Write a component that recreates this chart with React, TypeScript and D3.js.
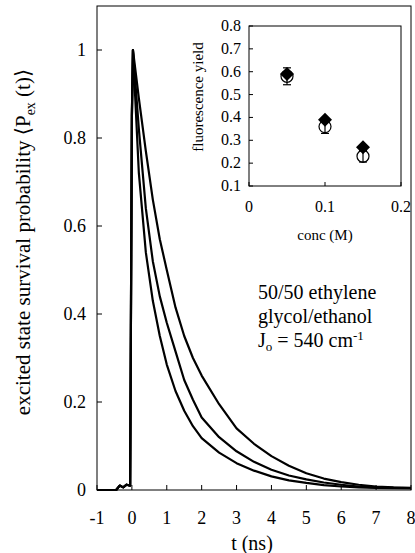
import React from "react";
import * as d3 from "d3";

const times = [-1, -0.45, -0.35, -0.25, -0.15, -0.05, 0, 0.03, 0.2, 0.4, 0.6, 0.8, 1.0, 1.25, 1.5, 1.75, 2.0, 2.5, 3.0, 3.5, 4.0, 4.5, 5.0, 5.5, 6.0, 6.5, 7.0, 7.5, 8.0];
const slowDecay = [0, 0, 0.01, 0.006, 0.012, 0.01, 0.85, 1.0, 0.89, 0.77, 0.66, 0.57, 0.5, 0.415, 0.35, 0.3, 0.26, 0.195, 0.14, 0.105, 0.077, 0.055, 0.038, 0.026, 0.018, 0.012, 0.008, 0.006, 0.005];
const midDecay = [0, 0, 0.01, 0.006, 0.012, 0.01, 0.85, 1.0, 0.82, 0.64, 0.52, 0.44, 0.38, 0.315, 0.25, 0.205, 0.165, 0.12, 0.088, 0.064, 0.046, 0.033, 0.024, 0.017, 0.012, 0.008, 0.006, 0.005, 0.004];
const fastDecay = [0, 0, 0.01, 0.006, 0.012, 0.01, 0.85, 1.0, 0.72, 0.54, 0.43, 0.35, 0.285, 0.225, 0.18, 0.145, 0.118, 0.085, 0.061, 0.044, 0.031, 0.022, 0.016, 0.011, 0.008, 0.006, 0.005, 0.004, 0.004];
const xTicks = [-1, 0, 1, 2, 3, 4, 5, 6, 7, 8];
const yTicks = [0, 0.2, 0.4, 0.6, 0.8, 1];

const concs = [0.05, 0.1, 0.15];
const yieldDiamond = [0.59, 0.39, 0.27];
const yieldCircle = [0.58, 0.36, 0.23];
const yieldErr = [0.037, 0.03, 0.025];
const insetXTicks = [0, 0.1, 0.2];
const insetYTicks = [0.1, 0.2, 0.3, 0.4, 0.5, 0.6, 0.7, 0.8];

const FONT = "Liberation Serif, DejaVu Serif, serif";

export default function App() {
  const W = 415, H = 553;
  const x = d3.scaleLinear().domain([-1, 8]).range([97, 411]);
  const y = d3.scaleLinear().domain([0, 1.1]).range([490, 6]);
  const line = d3.line<number>().x((_, i) => x(times[i])).y((v) => y(v));
  const series = [slowDecay, midDecay, fastDecay];

  const ix = d3.scaleLinear().domain([0, 0.2]).range([249, 401]);
  const iy = d3.scaleLinear().domain([0.1, 0.8]).range([186, 26]);
  const fmt = (v: number) => (v === 0 ? "0" : String(+v.toFixed(1)));

  return (
    <svg width={W} height={H} style={{ position: "absolute", left: 0, top: 0, background: "#fff", fontFamily: FONT }}>
      <rect x={0} y={0} width={W} height={H} fill="#fff" />
      <rect x={x(-1)} y={y(1.1)} width={x(8) - x(-1)} height={y(0) - y(1.1)} fill="none" stroke="#000" strokeWidth={1} />
      {yTicks.map((t) => (
        <g key={"yt" + t}>
          <line x1={x(-1)} x2={x(-1) + 5} y1={y(t)} y2={y(t)} stroke="#000" />
          <text x={86} y={y(t) + 6} fontSize={18} textAnchor="end">{t === 0 ? "0" : t === 1 ? "1" : t.toFixed(1)}</text>
        </g>
      ))}
      {xTicks.map((t) => (
        <g key={"xt" + t}>
          <line x1={x(t)} x2={x(t)} y1={y(0)} y2={y(0) - 5} stroke="#000" />
          <text x={x(t)} y={524} fontSize={18} textAnchor="middle">{t}</text>
        </g>
      ))}
      <text x={252} y={550} fontSize={20} textAnchor="middle">t (ns)</text>
      <text transform="translate(30,242) rotate(-90)" fontSize={21} textAnchor="middle">
        excited state survival probability ⟨P<tspan fontSize={14} dy={5}>ex</tspan><tspan dy={-5}> (t)⟩</tspan>
      </text>

      {series.map((s, i) => (
        <path key={"s" + i} d={line(s) || ""} fill="none" stroke="#000" strokeWidth={2.2} strokeLinejoin="round" />
      ))}

      <text x={258} y={299} fontSize={20}>50/50 ethylene</text>
      <text x={258} y={323} fontSize={20}>glycol/ethanol</text>
      <text x={258} y={347} fontSize={20}>
        J<tspan fontSize={13} dy={4}>o</tspan><tspan dy={-4}> = 540 cm</tspan><tspan fontSize={13} dy={-7}>-1</tspan>
      </text>

      <rect x={ix(0)} y={iy(0.8)} width={ix(0.2) - ix(0)} height={iy(0.1) - iy(0.8)} fill="#fff" stroke="#000" strokeWidth={1} />
      {insetYTicks.map((t) => (
        <g key={"iyt" + t}>
          <line x1={ix(0)} x2={ix(0) + 4} y1={iy(t)} y2={iy(t)} stroke="#000" />
          <text x={241} y={iy(t) + 5} fontSize={16} textAnchor="end">{fmt(t)}</text>
        </g>
      ))}
      {insetXTicks.map((t) => (
        <g key={"ixt" + t}>
          <line x1={ix(t)} x2={ix(t)} y1={iy(0.1)} y2={iy(0.1) - 4} stroke="#000" />
          <text x={ix(t)} y={212} fontSize={16} textAnchor="middle">{fmt(t)}</text>
        </g>
      ))}
      <text x={325} y={240} fontSize={15} textAnchor="middle">conc (M)</text>
      <text transform="translate(203,97) rotate(-90)" fontSize={15} textAnchor="middle">fluorescence yield</text>
      {concs.map((c, i) => {
        const cx = ix(c);
        const cy = iy(yieldCircle[i]);
        const top = iy(yieldCircle[i] + yieldErr[i]);
        const bot = iy(yieldCircle[i] - yieldErr[i]);
        const dy = iy(yieldDiamond[i]);
        const d = 7;
        return (
          <g key={"pt" + i}>
            <line x1={cx} x2={cx} y1={top} y2={bot} stroke="#000" strokeWidth={1.2} />
            <line x1={cx - 4} x2={cx + 4} y1={top} y2={top} stroke="#000" strokeWidth={1.2} />
            <line x1={cx - 4} x2={cx + 4} y1={bot} y2={bot} stroke="#000" strokeWidth={1.2} />
            <circle cx={cx} cy={cy} r={6} fill="none" stroke="#000" strokeWidth={1.2} />
            <path d={`M${cx},${dy - d} L${cx + d},${dy} L${cx},${dy + d} L${cx - d},${dy} Z`} fill="#000" />
          </g>
        );
      })}
    </svg>
  );
}
